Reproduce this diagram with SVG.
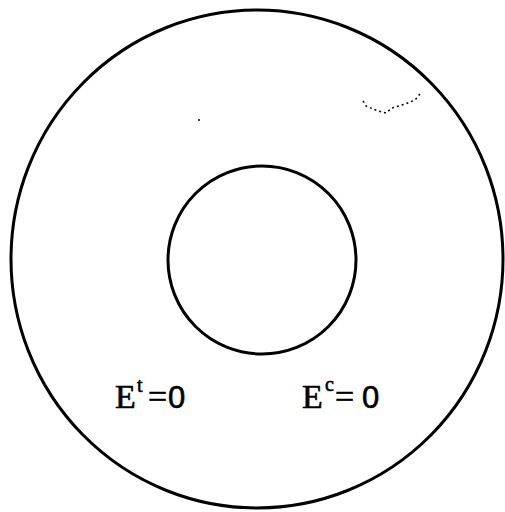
<svg xmlns="http://www.w3.org/2000/svg" width="505" height="512" viewBox="0 0 505 512">
<style>
.ring{fill:none;stroke:#000;stroke-width:3}
.lbl{font-family:"Liberation Serif","Times New Roman",serif;font-size:34px;fill:#000;stroke:#000;stroke-width:0.6}
.sup{font-size:20px}
.zero{font-family:"Liberation Sans",Arial,sans-serif;font-size:31px}
.spot{fill:none;stroke:#000;stroke-width:1.5;stroke-dasharray:2 3}
</style>
<rect width="505" height="512" fill="#fff"/>
<g id="outer"><ellipse class="ring" cx="257" cy="259" rx="246" ry="249"/></g>
<g id="inner"><circle class="ring" cx="262" cy="260" r="94"/></g>
<g id="marks">
<path class="spot" d="M363,101 L366,106 L378,111 L386,113 L392,108 L405,104 L415,100 L420,94"/>
<circle cx="199" cy="120" r="1" fill="#000"/>
</g>
<g id="label-t"><text class="lbl" y="408"><tspan x="115">E</tspan><tspan class="sup" x="137" y="392">t</tspan><tspan x="148" y="408">=</tspan><tspan class="zero" x="168">0</tspan></text></g>
<g id="label-c"><text class="lbl" y="408"><tspan x="302">E</tspan><tspan class="sup" x="325" y="391">c</tspan><tspan x="335" y="408">=</tspan><tspan class="zero" x="362">0</tspan></text></g>
</svg>
